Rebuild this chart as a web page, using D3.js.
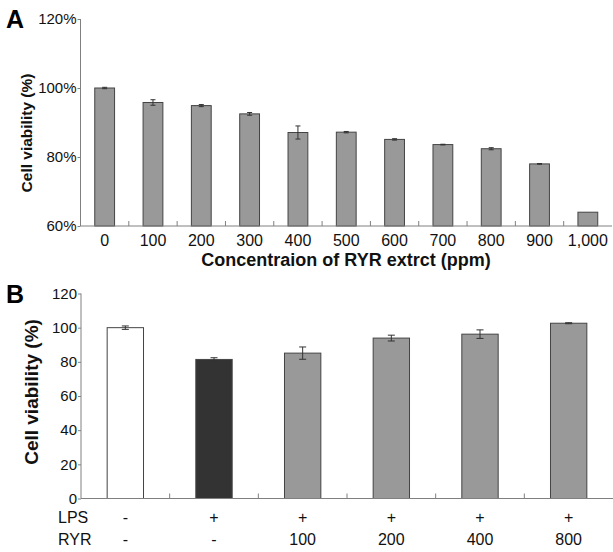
<!DOCTYPE html>
<html><head><meta charset="utf-8">
<script src="https://cdn.jsdelivr.net/npm/d3@7"></script>
<style>
body{margin:0;background:#fff;}
svg{display:block;font-family:Arial,"Liberation Sans",sans-serif;}
</style></head>
<body>
<script>
// Panel A data
const concLabels = ["0","100","200","300","400","500","600","700","800","900","1,000"];
const viabilityA = [100, 95.8, 94.9, 92.5, 87.1, 87.2, 85.1, 83.6, 82.4, 78.0, 64.0];
const errorA     = [0.2, 0.8, 0.3, 0.4, 1.9, 0.2, 0.2, 0.1, 0.3, 0.1, 0];
const yTicksA = [60, 80, 100, 120];

// Panel B data
const lpsLabels = ["-", "+", "+", "+", "+", "+"];
const ryrLabels = ["-", "-", "100", "200", "400", "800"];
const viabilityB = [100, 81.4, 85.1, 93.9, 96.2, 102.6];
const errorB     = [1.0, 1.0, 3.6, 1.7, 2.5, 0.3];
const barColorsB = ["#ffffff", "#333333", "#999999", "#999999", "#999999", "#999999"];
const yTicksB = [0, 20, 40, 60, 80, 100, 120];

const W = 613, H = 552;
const svg = d3.select("body").append("svg").attr("width", W).attr("height", H);
const axisColor = "#808080";

function drawPanel(opts){
  const g = svg.append("g");
  const x = d3.scaleBand().domain(opts.cats.map((d,i)=>i)).range([opts.x0, opts.x1]).paddingInner(0.59).paddingOuter(0.295);
  const xb = d3.scaleBand().domain(opts.cats.map((d,i)=>i)).range([opts.x0, opts.x1]);
  const y = d3.scaleLinear().domain(opts.yDomain).range([opts.yBottom, opts.yTop]);

  // bars
  g.selectAll("rect.bar").data(opts.values).join("rect")
    .attr("x",(d,i)=>x(i)).attr("width",x.bandwidth())
    .attr("y",d=>y(d)).attr("height",d=>y(opts.yDomain[0])-y(d))
    .attr("fill",(d,i)=>opts.colors[i]).attr("stroke","#444").attr("stroke-width",1);

  // error bars
  const cap = opts.cap;
  opts.values.forEach((v,i)=>{
    const e = opts.errors[i]; if(!e) return;
    const cx = x(i)+x.bandwidth()/2;
    g.append("line").attr("x1",cx).attr("x2",cx).attr("y1",y(v+e)).attr("y2",y(v-e)).attr("stroke","#333");
    [v+e, v-e].forEach(t=>g.append("line").attr("x1",cx-cap).attr("x2",cx+cap).attr("y1",y(t)).attr("y2",y(t)).attr("stroke","#333"));
  });

  // y axis
  const ya = g.append("g").attr("transform",`translate(${opts.x0},0)`)
    .call(d3.axisLeft(y).tickValues(opts.yTicks).tickSize(3).tickPadding(1).tickFormat(opts.yFmt));
  ya.select(".domain").attr("stroke",axisColor).attr("d",`M0,${opts.yBottom}V${opts.yTop}`);
  ya.selectAll(".tick line").attr("stroke",axisColor);
  ya.selectAll(".tick text").attr("font-size",15).attr("fill","#111").attr("font-family","Arial,'Liberation Sans',sans-serif");

  // x axis line with inward ticks at band boundaries
  const xa = g.append("g");
  xa.append("line").attr("x1",opts.x0).attr("x2",opts.x1).attr("y1",opts.yBottom).attr("y2",opts.yBottom).attr("stroke",axisColor);
  opts.cats.forEach((d,i)=>{
    if(i===0) return;
    const bx = xb(i);
    xa.append("line").attr("x1",bx).attr("x2",bx).attr("y1",opts.yBottom).attr("y2",opts.yBottom-5).attr("stroke",axisColor);
  });
  return {x, y};
}

// Panel A
const A = drawPanel({cats:concLabels, values:viabilityA, errors:errorA, colors:viabilityA.map(()=>"#999999"),
  x0:80.5, x1:612, yTop:19, yBottom:226, yDomain:[60,120], yTicks:yTicksA, yFmt:d=>d+"%", cap:2.5});
svg.append("g").selectAll("text").data(concLabels).join("text")
  .attr("x",(d,i)=>A.x(i)+A.x.bandwidth()/2).attr("y",246)
  .attr("text-anchor","middle").attr("font-size",16).attr("fill","#111").text(d=>d);
svg.append("text").attr("x",346).attr("y",266).attr("text-anchor","middle")
  .attr("font-size",18).attr("font-weight","bold").attr("fill","#111").text("Concentraion of RYR extrct (ppm)");
svg.append("text").attr("transform","translate(32,133) rotate(-90)").attr("text-anchor","middle")
  .attr("font-size",15.5).attr("font-weight","bold").attr("fill","#111").text("Cell viability (%)");
svg.append("text").attr("x",6).attr("y",28).attr("font-size",25).attr("font-weight","bold").attr("fill","#000").text("A");

// Panel B
const B = drawPanel({cats:ryrLabels, values:viabilityB, errors:errorB, colors:barColorsB,
  x0:81, x1:613, yTop:293.5, yBottom:498.5, yDomain:[0,120], yTicks:yTicksB, yFmt:d=>d, cap:3.5});
svg.append("g").selectAll("text").data(lpsLabels).join("text")
  .attr("x",(d,i)=>B.x(i)+B.x.bandwidth()/2).attr("y",523)
  .attr("text-anchor","middle").attr("font-size",16).attr("fill","#111").text(d=>d);
svg.append("g").selectAll("text").data(ryrLabels).join("text")
  .attr("x",(d,i)=>B.x(i)+B.x.bandwidth()/2).attr("y",545)
  .attr("text-anchor","middle").attr("font-size",16).attr("fill","#111").text(d=>d);
svg.append("text").attr("x",58).attr("y",523).attr("font-size",16).attr("fill","#111").text("LPS");
svg.append("text").attr("x",58).attr("y",545).attr("font-size",16).attr("fill","#111").text("RYR");
svg.append("text").attr("transform","translate(38,392) rotate(-90)").attr("text-anchor","middle")
  .attr("font-size",19).attr("font-weight","bold").attr("fill","#111").text("Cell viability (%)");
svg.append("text").attr("x",6).attr("y",303).attr("font-size",25).attr("font-weight","bold").attr("fill","#000").text("B");
</script>
</body></html>
